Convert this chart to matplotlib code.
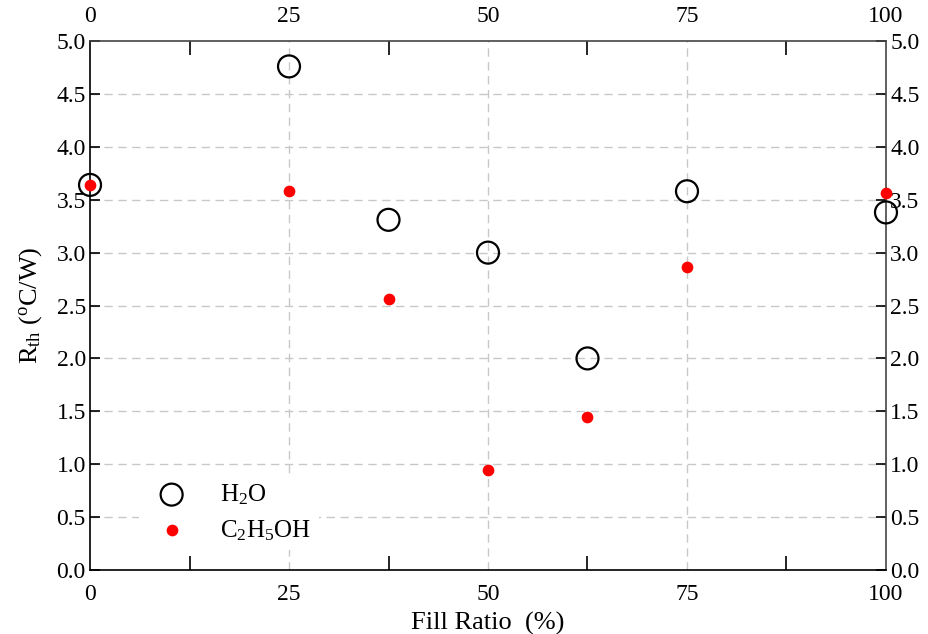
import matplotlib.pyplot as plt
import numpy as np

plt.rcParams['font.family'] = ['Liberation Serif', 'DejaVu Serif']
plt.rcParams['mathtext.fontset'] = 'custom'
plt.rcParams['mathtext.rm'] = 'Liberation Serif'
plt.rcParams['mathtext.it'] = 'Liberation Serif'

# Fill ratio (%) and thermal resistance (oC/W)
fill_ratio = [0, 25, 37.5, 50, 62.5, 75, 100]
rth_h2o = [3.64, 4.76, 3.31, 3.00, 2.00, 3.58, 3.38]
rth_ethanol = [3.64, 3.58, 2.56, 0.95, 1.45, 2.86, 3.56]

x_ticks = [0, 25, 50, 75, 100]
x_minor = [12.5, 37.5, 62.5, 87.5]
y_ticks = np.arange(0, 5.01, 0.5)

fig = plt.figure(figsize=(9.29, 6.34), dpi=100)
ax = fig.add_axes([0.0969, 0.1009, 0.8568, 0.8344])

ax.scatter(fill_ratio, rth_h2o, s=250, facecolors='none', edgecolors='black',
           linewidths=1.6, label='H$_2$O', zorder=3, clip_on=False)
ax.scatter(fill_ratio, rth_ethanol, s=55, color='#ff0000',
           label='C$_2$H$_5$OH', zorder=4, clip_on=False)

ax.set_xlim(0, 100)
ax.set_ylim(0, 5.0)
ax.set_xticks(x_ticks)
ax.set_xticks(x_minor, minor=True)
ax.set_yticks(y_ticks)
ax.set_yticklabels([f"{v:.1f}" for v in y_ticks])

# grid
for v in y_ticks[1:-1]:
    ax.axhline(v, color='#c8c8c8', linestyle=(0, (6, 4)), linewidth=1, zorder=1)
for v in x_ticks[1:-1]:
    ax.axvline(v, color='#c8c8c8', linestyle=(0, (6, 4)), linewidth=1, zorder=1)

ax.tick_params(axis='both', which='both', direction='in', labelsize=17,
               top=True, right=True, labeltop=True, labelright=True, colors='black')
ax.tick_params(axis='x', which='major', length=0, pad=10)
ax.tick_params(axis='x', which='minor', length=10, width=1.2)
ax.tick_params(axis='y', which='major', length=7, width=1.2, pad=3)

for side in ['left', 'bottom']:
    ax.spines[side].set_color('black')
for side in ['right', 'top']:
    ax.spines[side].set_color('#444444')
for s in ax.spines.values():
    s.set_linewidth(1.2)

ax.set_xlabel('Fill Ratio  (%)', fontsize=19, labelpad=5)
ax.set_ylabel('R$_{\\mathrm{th}}$ ($^{\\mathrm{o}}$C/W)', fontsize=19, labelpad=9)

leg = ax.legend(loc='lower left', bbox_to_anchor=(0.046, 0.014), fontsize=18,
                frameon=True, handletextpad=0.95, labelspacing=0.45,
                scatterpoints=1, borderpad=0.3)
leg.get_frame().set_facecolor('white')
leg.get_frame().set_edgecolor('none')
leg.get_frame().set_alpha(1)

fig.savefig('out.png', dpi=100)
